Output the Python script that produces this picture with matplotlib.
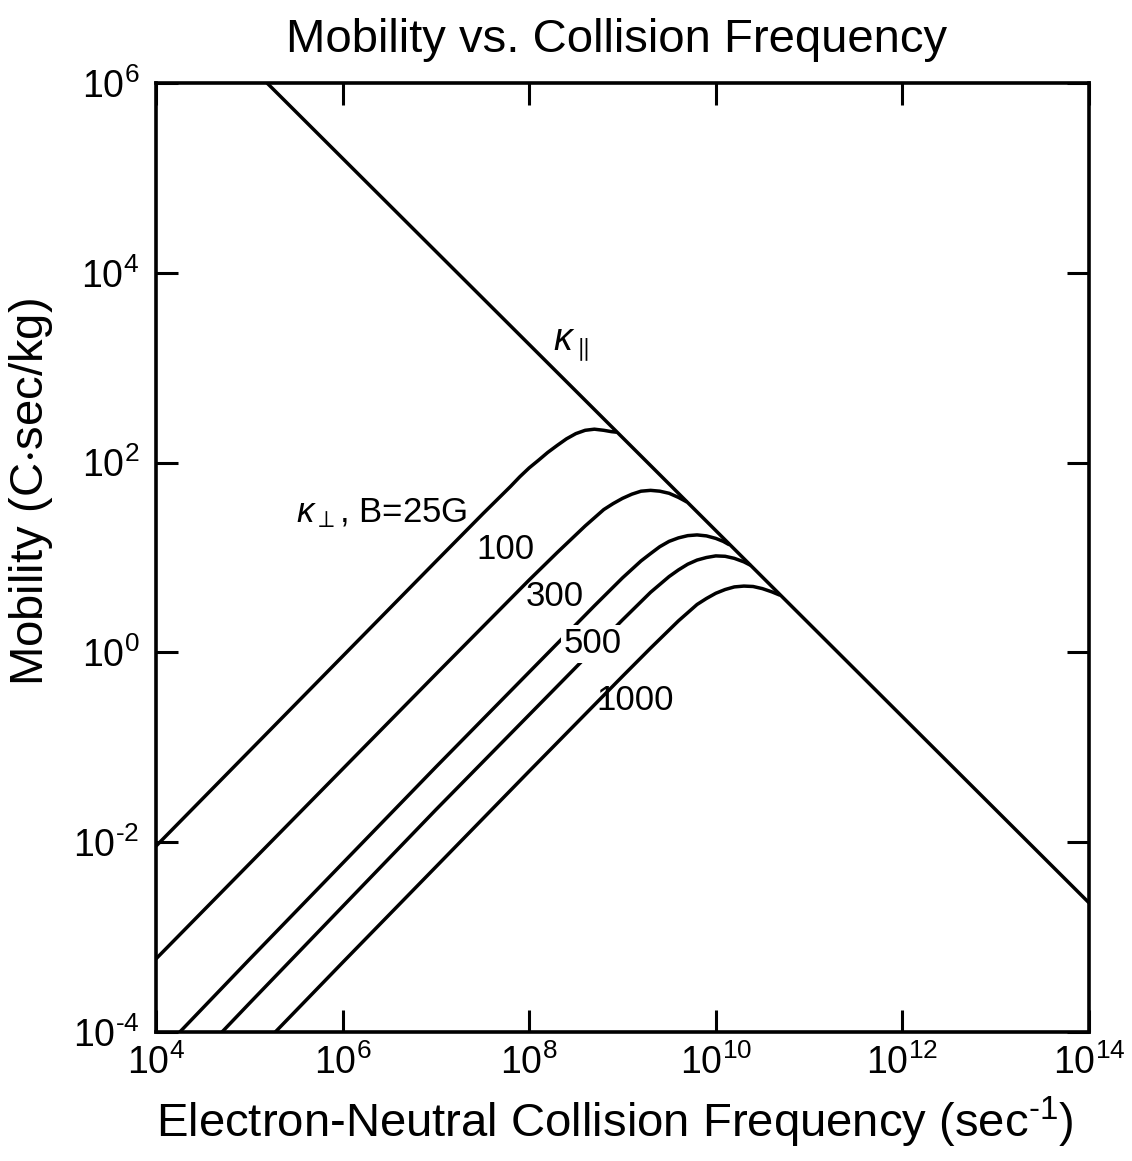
import numpy as np
import matplotlib
matplotlib.use('Agg')
import matplotlib.pyplot as plt
from matplotlib.ticker import NullLocator, FuncFormatter

plt.rcParams['font.family'] = ['Liberation Sans', 'DejaVu Sans']
plt.rcParams['mathtext.fontset'] = 'custom'
plt.rcParams['mathtext.rm'] = 'Liberation Sans'
plt.rcParams['mathtext.it'] = 'Liberation Sans:italic'
plt.rcParams['mathtext.default'] = 'regular'
plt.rcParams['axes.unicode_minus'] = False

# values (x: collision frequency, y: mobility)
par_x = [1.55e5, 1e14]
par_y = [1e6, 2.3e-3]

b25_x = [1e4, 1e5, 1e6, 1e7, 3.2e7, 6.3e7, 7.94e7, 1e8, 1.26e8, 1.58e8, 2e8, 2.51e8,
         3.16e8, 3.98e8, 5e8, 6.3e8, 7.6e8, 8.7e8]
b25_y = [9.1e-3, 9.1e-2, 0.91, 9.1, 29, 56, 71, 88, 106, 128, 152, 178,
         202, 219, 225, 219, 212, 209]

b100_x = [1e4, 1e5, 1e6, 1e7, 1e8, 2e8, 3.98e8, 6.3e8, 7.94e8, 1e9, 1.26e9, 1.58e9,
          2e9, 2.51e9, 3.16e9, 3.98e9, 4.9e9]
b100_y = [5.9e-4, 5.9e-3, 5.9e-2, 0.59, 5.8, 11.3, 21.5, 32, 37, 42, 46.5, 50,
          51, 50, 47.5, 43, 38.5]

b300_x = [1.8e4, 1e5, 1e6, 1e7, 1e8, 5e8, 1e9, 1.58e9, 2e9, 2.51e9, 3.16e9, 3.98e9,
          5e9, 6.3e9, 7.94e9, 1e10, 1.2e10, 1.4e10]
b300_y = [1e-4, 5.8e-4, 6.0e-3, 6.2e-2, 0.62, 3.1, 6.1, 9.2, 11, 13, 14.8, 16.1,
          17.0, 17.3, 16.9, 15.9, 14.8, 13.6]

b500_x = [5.1e4, 1e5, 1e6, 1e7, 1e8, 1e9, 2e9, 3.16e9, 3.98e9, 5e9, 6.3e9, 7.94e9,
          1e10, 1.26e10, 1.58e10, 2e10, 2.35e10]
b500_y = [1e-4, 2.0e-4, 2.1e-3, 2.2e-2, 0.22, 2.2, 4.3, 6.3, 7.4, 8.5, 9.4, 10.0,
          10.4, 10.3, 9.8, 9.0, 8.3]

b1000_x = [1.9e5, 1e6, 1e7, 1e8, 1e9, 2e9, 3.98e9, 6.3e9, 7.94e9, 1e10, 1.26e10, 1.58e10,
           2e10, 2.51e10, 3.16e10, 3.98e10, 4.9e10]
b1000_y = [1e-4, 5.4e-4, 5.5e-3, 5.6e-2, 0.56, 1.11, 2.15, 3.2, 3.7, 4.2, 4.6, 4.9,
           5.0, 4.95, 4.7, 4.35, 4.0]

x_ticks = [1e4, 1e6, 1e8, 1e10, 1e12, 1e14]
y_ticks = [1e-4, 1e-2, 1e0, 1e2, 1e4, 1e6]


def pow10(v, pos):
    e = int(round(np.log10(v)))
    if e < 0:
        return r'$10^{\text{-}%d}$' % (-e)
    return r'$10^{%d}$' % e


fig = plt.figure(figsize=(11.32, 11.61), dpi=100)
ax = fig.add_axes([0.1378, 0.1111, 0.8242, 0.8174])

lw = 2.5
for xs, ys in [(par_x, par_y), (b25_x, b25_y), (b100_x, b100_y),
               (b300_x, b300_y), (b500_x, b500_y), (b1000_x, b1000_y)]:
    ax.plot(xs, ys, color='black', lw=lw, solid_capstyle='butt', solid_joinstyle='round')

ax.set_xscale('log')
ax.set_yscale('log')
ax.set_xlim(1e4, 1e14)
ax.set_ylim(1e-4, 1e6)
ax.set_xticks(x_ticks)
ax.set_yticks(y_ticks)
ax.xaxis.set_minor_locator(NullLocator())
ax.yaxis.set_minor_locator(NullLocator())
ax.xaxis.set_major_formatter(FuncFormatter(pow10))
ax.yaxis.set_major_formatter(FuncFormatter(pow10))
ax.tick_params(which='major', direction='in', length=16, width=2.2,
               top=True, right=True, labelsize=27)
ax.tick_params(axis='x', pad=9)
ax.tick_params(axis='y', pad=12)
for s in ax.spines.values():
    s.set_linewidth(2.6)

# labels on the curves
ax.text(2.8e8, 1.75e3, r'$\mathit{\kappa}_{\parallel}$', fontsize=27, ha='center', va='center')
ax.text(3.2e5, 29, r'$\mathit{\kappa}_{\perp}$, B=25G', fontsize=25, ha='left', va='center')
ax.text(5.5e7, 12, '100', fontsize=25, ha='center', va='center')
ax.text(1.86e8, 3.9, '300', fontsize=25, ha='center', va='center')
ax.text(4.8e8, 1.23, '500', fontsize=25, ha='center', va='center',
        bbox=dict(facecolor='white', edgecolor='none', pad=2))
ax.text(1.35e9, 0.31, '1000', fontsize=25, ha='center', va='center')

ax.set_title('Mobility vs. Collision Frequency', fontsize=34, pad=22, x=0.494)
ax.set_xlabel(r'Electron-Neutral Collision Frequency (sec$^{\text{-}1}$)', fontsize=34)
ax.xaxis.set_label_coords(0.492, -0.066)
ax.set_ylabel('Mobility (C$\\cdot$sec/kg)', fontsize=34)
ax.yaxis.set_label_coords(-0.108, 0.569)

fig.savefig('out.png', dpi=100)
